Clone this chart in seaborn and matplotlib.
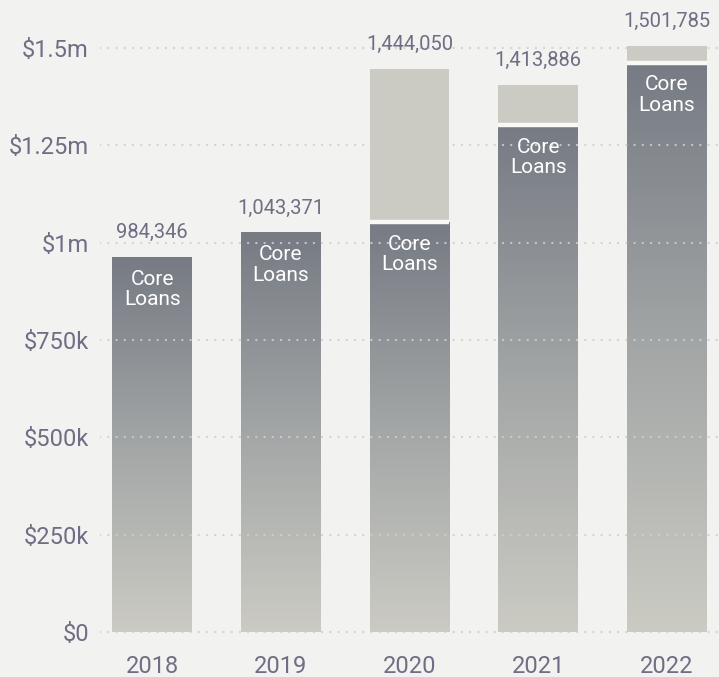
import matplotlib
matplotlib.use("Agg")
import matplotlib.pyplot as plt
import numpy as np
import seaborn as sns
from matplotlib.colors import LinearSegmentedColormap
from matplotlib.ticker import FuncFormatter

# values
years = ["2018", "2019", "2020", "2021", "2022"]
core_loans = [963000, 1025000, 1053000, 1302000, 1462000]
other_loans = [0, 0, 393000, 103000, 43000]
total_labels = ["984,346", "1,043,371", "1,444,050", "1,413,886", "1,501,785"]
y_ticks = [0, 250000, 500000, 750000, 1000000, 1250000, 1500000]
y_tick_labels = ["$0", "$250k", "$500k", "$750k", "$1m", "$1.25m", "$1.5m"]

BG = "#f2f2f0"
TEXT = "#706d84"
LIGHT = "#cbcbc3"
GRID = "#cfcfcc"

sns.set_theme(style="white")
plt.rcParams["font.family"] = ["Roboto", "DejaVu Sans"]

fig = plt.figure(figsize=(7.19, 6.77), dpi=100, facecolor=BG)
ax = fig.add_axes([100 / 719, (677 - 636) / 677, 619 / 719, 636 / 677])
ax.set_facecolor(BG)

totals = [c + o for c, o in zip(core_loans, other_loans)]
sns.barplot(x=years, y=totals, color=LIGHT, saturation=1, width=0.62,
            linewidth=0, edgecolor="none", ax=ax, zorder=2)
sns.barplot(x=years, y=core_loans, color=LIGHT, saturation=1, width=0.62,
            linewidth=0, edgecolor="none", ax=ax, zorder=2)

# gradient fill for the core loan bars
cmap = LinearSegmentedColormap.from_list("core", ["#cbcbc3", "#a3a6a6", "#767b84"])
grad = np.linspace(0, 1, 256).reshape(-1, 1)
core_patches = ax.patches[len(years):]
for patch in core_patches:
    x0, y0 = patch.get_x(), patch.get_y()
    w, h = patch.get_width(), patch.get_height()
    ax.imshow(grad, cmap=cmap, origin="lower", aspect="auto",
              extent=[x0, x0 + w, y0, y0 + h], zorder=3)

# white gap between the two segments
for i, patch in enumerate(core_patches):
    if other_loans[i] > 0:
        ax.hlines(core_loans[i], patch.get_x(), patch.get_x() + patch.get_width(),
                  color="#f8f8f6", linewidth=3.2, zorder=4)

# dotted gridlines
for t in y_ticks:
    ax.axhline(t, color=GRID, linewidth=1.6, linestyle=(0, (0.1, 3.6)),
               dash_capstyle="round", zorder=5, alpha=0.9)

for i, patch in enumerate(core_patches):
    xc = patch.get_x() + patch.get_width() / 2
    ax.annotate("Core\nLoans", xy=(xc, core_loans[i]), xytext=(0, -9),
                textcoords="offset points", ha="center", va="top",
                color="white", fontsize=15, linespacing=1.1, zorder=6)
    ax.annotate(total_labels[i], xy=(xc, totals[i]), xytext=(0, 11),
                textcoords="offset points", ha="center", va="bottom",
                color=TEXT, fontsize=14.5, zorder=6)

ax.set_yticks(y_ticks)
ax.yaxis.set_major_formatter(FuncFormatter(lambda v, p: y_tick_labels[y_ticks.index(int(v))]))
ax.set_xlim(-0.405, 4.405)
ax.set_ylim(-10300, 1623400)
ax.tick_params(axis="both", length=0, labelcolor=TEXT, labelsize=17)
ax.tick_params(axis="y", pad=8)
ax.tick_params(axis="x", pad=14)
ax.set_xlabel("")
ax.set_ylabel("")
sns.despine(ax=ax, left=True, bottom=True)

fig.savefig("out.png", dpi=100, facecolor=BG)
